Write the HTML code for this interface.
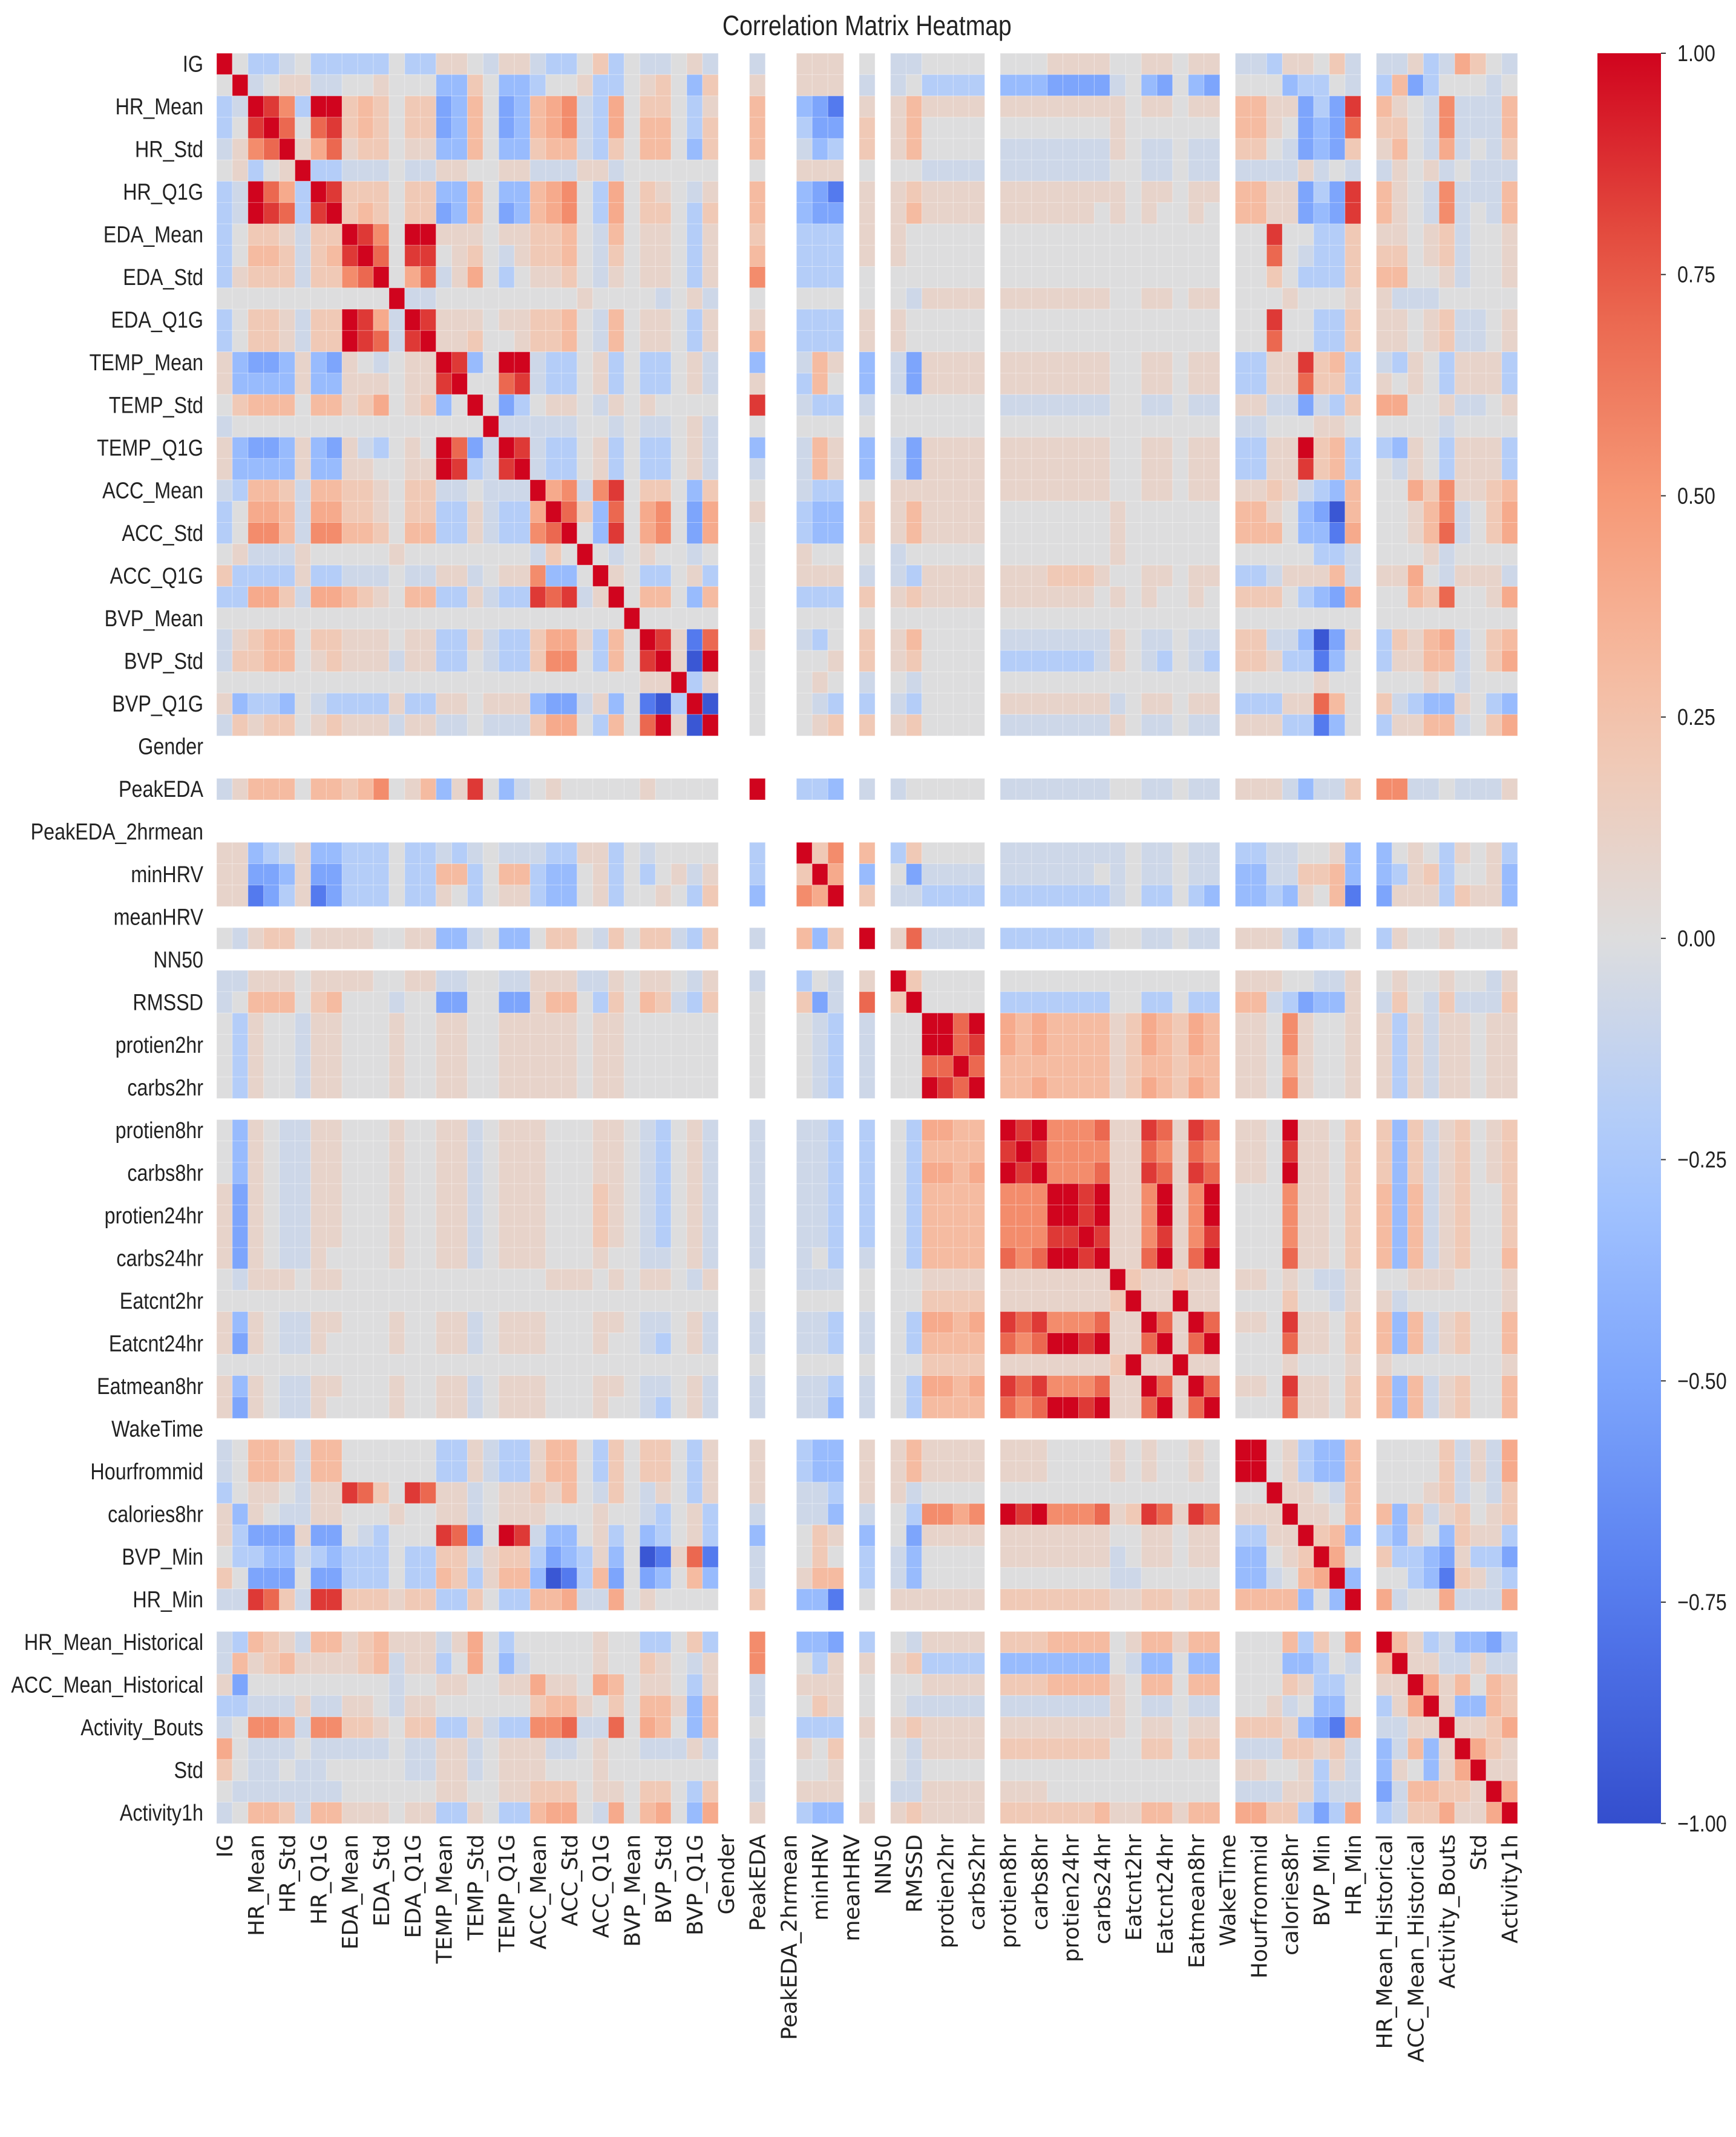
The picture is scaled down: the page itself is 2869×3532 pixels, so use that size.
<!DOCTYPE html>
<html>
<head>
<meta charset="utf-8">
<style>
  html,body{margin:0;padding:0;background:#fff;}
  svg{display:block;}
</style>
</head>
<body>
<svg id="chart" xmlns="http://www.w3.org/2000/svg" width="2869" height="3532" viewBox="0 0 2869 3532">
  <rect x="0" y="0" width="2869" height="3532" fill="#ffffff"/>
  <g id="title-g"></g>
  <g id="cells"></g>
  <g id="ylabels"></g>
  <g id="xlabels"></g>
  <g id="cbar"></g>
</svg>
<script>
// ---------- data ----------
const tickLabels = ["IG","HR_Mean","HR_Std","HR_Q1G","EDA_Mean","EDA_Std","EDA_Q1G","TEMP_Mean","TEMP_Std","TEMP_Q1G","ACC_Mean","ACC_Std","ACC_Q1G","BVP_Mean","BVP_Std","BVP_Q1G","Gender","PeakEDA","PeakEDA_2hrmean","minHRV","meanHRV","NN50","RMSSD","protien2hr","carbs2hr","protien8hr","carbs8hr","protien24hr","carbs24hr","Eatcnt2hr","Eatcnt24hr","Eatmean8hr","WakeTime","Hourfrommid","calories8hr","BVP_Min","HR_Min","HR_Mean_Historical","ACC_Mean_Historical","Activity_Bouts","Std","Activity1h"];
const nVars = 83;
const nanIdx = [32,33,35,36,40,42,49,64,73];
const levelChars = "ABCDEFGHIJKLMNO";
const levelValues = [-0.95,-0.75,-0.5,-0.35,-0.2,-0.08,0,0.1,0.2,0.3,0.4,0.55,0.7,0.85,1];
const colorbarTicks = [1,0.75,0.5,0.25,0,-0.25,-0.5,-0.75,-1];
const colorbarTickText = ["1.00","0.75","0.50","0.25","0.00","\u22120.25","\u22120.50","\u22120.75","\u22121.00"];
// lower-triangle rows (column j of row i, j<=i), coded with levelChars
const matrixRows = [
"OGEEFGEEEEEGEEHHFGHHFEEGIEGF",
"GOFGHGFFGHHGGGDDIGDDEGGGEGGI",
"EFONLEOOIIIGIICDJGCDJKKGEKGI",
"EGNOMGMNIJJGIICDJGCCJKKGEKGJ",
"FHLMOHKMHIIGHHDDJGCDIJJGFJGJ",
"GHEGHOEEFFFGFFHHGGHHFFFHGFGG",
"EFOMKEONIJIGIICDJGCDJKKGEKGI",
"EFONMENOIJJGIICDJGCCJKKGEKGJ",
"EGIIHFIIONLFOOHHHGGHIIJGFJGH",
"EGJJIFIJNOMFNOGHIGGHIIJGFJGH",
"EHIIIFIILMOGKMFHKGEGHHIGFIGH",
"GGGGGGGGGGGOGGGGGGGGGGGGGGGG",
"EGIIHFIIONKFONHHHGHHIIJGFJGH",
"EGIIHFIIONMFNOGHIGGHIIJGFJGH",
"HDCCDHDCHGFGHHONDFOOGEEGHEGE",
"HDDDDHDDHHHGHHNOGFMOGEEGHEGE",
"GIJJJGJJHIKGHIDGOGCEGHHGHGGH",
"FGGGGGGGGGGGGGGGGOGGGGGGGGGF",
"HDCCDHDCHFEGHGOMCFONGEEGHEGE",
"HDDDDHDDHHGGHHONEFNOGEEGHEGE",
"FEJJIFJJIIHGIIFFGFFFOKLFLNGI",
"EGKKJFKKIIHGIIEEHFEEKOMIDMGK",
"EGLLJFLLJJIGJJEEHFEELMOGDNGJ",
"GHFFFHGGGGGHGGGGGGGGFIGOGFGH",
"IEEEEHEEFFFGFFHHFGHHLDDGOIFF",
"EEKKIFKKJIHGJJEEHFEENMNFHOGJ",
"GGGGGGGGGGGGGGGGGGGGGGGGGGOG",
"FHIJJGIIHHHGHHEEHFEEIKKHEJGO",
"FIIJJGHIHHHFHHEEGFEEILLGEJGN"+"O",
"GGGGGGGGGGGGGGGGGGGGGGGGGGGH"+"HO",
"HDEEDGFEEEEHEEHHGHHHDCCFHDGB"+"AEO",
"FIHIIGHIHHHFHHFFGFFFIKKGEJGM"+"OHAO",
"",
"",
"FHJJJGJJIJLGHJDHNGDFGHGGGGGH"+"GGGG..O",
"",
"",
"HHDEFHDDEEEGEEFEFGFFFEEHHEGF"+"GGGG..E..O",
"HHCCDHCCEEEGEEJJEGJJEDDGHEGE"+"GHFH..E..IO",
"HHBCEHBCEEEGEEHGEGHHEDDGHEGG"+"HGEI..D..LKO",
"",
"GFHIIGHHHHGGHHDDFGDDGIIGFIGI"+"IFEI..F..JDI.O",
"",
"FFHHHGHHHHGGHHFFGGFFHHHFFHGH"+"HGFH..F..EGF.H.O",
"FGJJJGIJGGGFGGCCGGCCHJJGEIGJ"+"IFEI..G..ICF.M.IO",
"GEHGGFHHGGGHGGHHGGHHHHHGHHGG"+"GGGG..G..GFE.F.GG"+"O",
"GEHGGFHHGGGHGGHHGGHHHHHGHHGG"+"GGGG..G..GFE.F.GG"+"OO",
"GEHGGFHHGGGHGGHHGGHHHHHGHHGG"+"GGGG..G..GFE.F.GG"+"MMO",
"GEHGGFHHGGGHGGHHGGHHHHHGHHGG"+"GGGG..G..GFE.F.GG"+"ONMO",
"",
"GDHGFFHHGGGHGGHHFGHHHGGGHHGF"+"EGHF..F..FFE.E.GE"+"KKJJ"+"."+"O",
"GDHGFFHHGGGHGGHHFGHHHGGGHHGF"+"EGHF..F..FFE.E.GE"+"JJJJ"+"."+"NO",
"GDHGFFHHGGGHGGHHFGHHHGGGHHGF"+"EGHF..F..FFE.E.GE"+"KKJK"+"."+"ONO",
"HCHGFFHHGGGHGGHHFGHHHGGGIHGF"+"EGHF..F..FFE.E.GE"+"JJJJ"+"."+"LLLO",
"HCHGFFHHGGGHGGHHFGHHHGGGIHGF"+"EGHF..F..FFE.E.GE"+"JJJJ"+"."+"LLLOO",
"HCHGFFHHGGGHGGHHFGHHHGGGIHGF"+"EGHF..F..FFE.E.GE"+"JJJJ"+"."+"LLLNNO",
"HCHGFFHGGGGHGGHHFGHHHGGGHGGF"+"FGHF..F..FGE.F.GEJJJJ.MLMOON"+"O",
"GFHHHGHHGGGGGGGGGGGGGHHHGHGH"+"HGFH..G..FFF.G.GGHHHH.HHHHHH"+"HO",
"GGGGGGGGGGGGGGGGGGGGGGGGGGGG"+"GGGG..G..GGG.G.GGIIII.HHHHHH"+"HIO",
"HDHGFFHHGGGHGGHHFGHHHGGGHHGF"+"FGHF..F..FFE.F.GEKKJK.NMNLLL"+"MHHO",
"HCHGFFHGGGGHGGHHFGHHHGGGHGGF"+"EGHF..F..FFE.F.GEJJJJ.MLMOON"+"OHHMO",
"GGGGGGGGGGGGGGGGGGGGGGGGGGGG"+"GGGG..G..GGG.G.GGIIII.HHHHHH"+"HIOHHO",
"HDHGFFHHGGGHGGHHFGHHHGGGHHGF"+"FGHF..F..FFE.F.GEKKJK.NMNLLL"+"MHHOMHO",
"HCHGFFHGGGGHGGHHFGHHHGGGHGGF"+"EGHF..F..FFD.F.GEJJJJ.MLMOON"+"OHHMOHMO",
"",
"FGJJIFJJGGGGGGEEHFEEHJJGEIGI"+"IGEH..H..EDD.H.HJHHHH.HHHGGG"+"GHGHGGHG.O",
"FGJJIFJJGGGGGGEEHFEEHJJGEIGI"+"IGEH..H..EDD.H.HJHHHH.HHHGGG"+"GHGHGGHG.OO",
"EGHHGFHHNMIGNMHHFGHHIHJGFIGF"+"HGEH..H..FFE.H.HFGGGG.GGGGGG"+"GGGGGGGG.GGO",
"HDHGFFHHGGGHGGHHFGHHHGGGHGGF"+"EGHE..F..FFD.F.GELLKL.ONOLLL"+"MHINMHNM.HHHO",
"HECCCHCCGFEGGGNMCGONFDDGHEGD"+"EGHE..D..GIH.D.GCHHHH.HHHHHH"+"HGGHHGHH.EEHHO",
"GEEDDFEDEEEGEEIIFHIIECDEHDGA"+"BHMB..F..GIG.E.FDGGGG.HHHHHH"+"HFGHHGHH.DDGHIO",
"IGCCCGCCEEEGEEJIEHJJDABEJCGC"+"DGJD..F..HJJ.E.FDGGGG.GGGGGG"+"GFFGGGGG.DDFGJKO",
"FFNMIFNNIIIHIIEEIGEEJJKFFKGH"+"GGGG..I..DDB.G.HHHHHH.IIIIII"+"IHHIIHII.JJJJDGDO",
"",
"FEJIHFJJHIJHHHFHKGEGGGGGHGGE"+"EGIE..L..DDC.E.GFHHHH.IIIJJJ"+"JGHJJHJJ.GGGJEIGK.O",
"FJHIJHHHHIJFHHEGKGDFGGGGHGGI"+"HGFH..L..GEH.H.HIEEEE.DDDDDD"+"DGFDDGDD.GGGDDEGF.JO",
"HCGGGGGGGGGFGGHHGGHHKHHGKJGH"+"HGEH..F..HHH.G.GGHHHH.IIIJJJ"+"JHGJJGJJ.GGGIHEEG.HHO",
"EEFFFHFFHHGFHHGGGGGGIJJHGIGJ"+"JHDJ..F..GIH.G.GFFFFF.FFFFFF"+"FHGFFGFF.GGHFGDDG.EHKO",
"FGLLKFLLIIHGIIEEHFEELLMFFMGK"+"JGDJ..G..EEE.H.HIHHHH.HHHHHH"+"HHGHHGHH.IIIHDCBK.FFHHO",
"KGFFFGFFFFFGFFHHFGHHHFFGHGGF"+"FFHF..F..HGI.G.GFHHHH.IIIIII"+"IGGIIGII.FFFIIHIF.DFJDHO",
"IGFFGFFGGGGGFFHHFGHHHGGGHGGG"+"GGGG..F..GGH.G.GFGGGG.GGGGGG"+"GGGGGGGG.HHGGHEHF.DHGDHKO",
"GFFFFFFFGGGGGGHHGGHHIIIGHHGI"+"IGEI..F..HHH.G.FFHHHH.HHHGGG"+"GGGGGGGG.FFFHHEFF.CFJJIIHO",
"FGJJIFJJHHHGHHEEHGEEJKKGFKGJ"+"KGDK..H..EDD.H.HIHHHH.IIIIII"+"JHHJJHJJ.KKIIECEK.EFIIKHHKO"
];

// ---------- layout ----------
const heatLeft = 358, heatTop = 88, cellW = 25.9, cellH = 35.25;
const heatBottom = heatTop + nVars*cellH;
const cbLeft = 2640, cbWidth = 105;
const NS = "http://www.w3.org/2000/svg";

// coolwarm-like colormap (tuned to reference saturation)
const cmStops = [
 [0.0,[52,78,205]],[0.125,[84,122,238]],[0.25,[125,165,252]],[0.375,[170,201,254]],
 [0.5,[221,221,222]],[0.625,[245,196,172]],[0.75,[246,152,118]],[0.875,[232,92,70]],[1.0,[208,4,30]]
];
function cmap(v){
  let t=(v+1)/2; t=Math.max(0,Math.min(1,t));
  for(let k=1;k<cmStops.length;k++){
    if(t<=cmStops[k][0]){
      const a=cmStops[k-1], b=cmStops[k]; const f=(t-a[0])/(b[0]-a[0]);
      const c=a[1].map((x,i)=>Math.round(x+(b[1][i]-x)*f));
      return "rgb("+c.join(",")+")";
    }
  }
  return "rgb(208,4,30)";
}
function xScale(j){ return heatLeft + j*cellW; }
function yScale(i){ return heatTop + i*cellH; }
function cbScale(v){ return heatTop + (1-v)/2*(heatBottom-heatTop); }

function valueAt(i,j){
  if(nanIdx.includes(i)||nanIdx.includes(j)) return null;
  const a=Math.max(i,j), b=Math.min(i,j);
  const s=matrixRows[a]; if(!s) return null;
  const ch=s[b]; const k=levelChars.indexOf(ch);
  if(k<0) return null;
  return levelValues[k];
}

// ---------- title ----------
const tg=document.getElementById("title-g");
const title=document.createElementNS(NS,"text");


title.setAttribute("transform","translate("+(heatLeft+nVars*cellW/2)+",58) scale(0.85,1)");
title.setAttribute("text-anchor","middle");
title.setAttribute("font-family","Liberation Sans, DejaVu Sans, sans-serif");
title.setAttribute("font-size","46");
title.setAttribute("fill","#222");
title.textContent="Correlation Matrix Heatmap";
tg.appendChild(title);

// ---------- cells ----------
const cg=document.getElementById("cells");
for(let i=0;i<nVars;i++){
  for(let j=0;j<nVars;j++){
    const v=valueAt(i,j);
    if(v===null) continue;
    const r=document.createElementNS(NS,"rect");
    
    
    r.setAttribute("x",xScale(j).toFixed(2));
    r.setAttribute("y",yScale(i).toFixed(2));
    r.setAttribute("width",(cellW+0.3).toFixed(2));
    r.setAttribute("height",(cellH+0.3).toFixed(2));
    r.setAttribute("fill",cmap(v));
    r.setAttribute("stroke","rgba(255,255,255,0.35)");
    r.setAttribute("stroke-width","1");
    cg.appendChild(r);
  }
}

// ---------- axis labels ----------
const yg=document.getElementById("ylabels");
const xg=document.getElementById("xlabels");
tickLabels.forEach((lab,k)=>{
  const idx=2*k;
  const t=document.createElementNS(NS,"text");
  
  
  t.setAttribute("transform","translate(336,"+(yScale(idx)+cellH/2+13).toFixed(1)+") scale(0.85,1)");
  t.setAttribute("text-anchor","end");
  t.setAttribute("font-family","Liberation Sans, sans-serif");
  t.setAttribute("font-size","38");
  t.setAttribute("fill","#222");
  t.textContent=lab;
  yg.appendChild(t);

  const xt=document.createElementNS(NS,"text");
  
  
  const cx=xScale(idx)+cellW/2+13;
  xt.setAttribute("transform","translate("+cx.toFixed(1)+","+(heatBottom+18)+") rotate(-90)");
  xt.setAttribute("text-anchor","end");
  xt.setAttribute("font-family","DejaVu Sans, sans-serif");
  xt.setAttribute("font-size","36");
  xt.setAttribute("fill","#222");
  xt.textContent=lab;
  xg.appendChild(xt);
});

// ---------- colorbar ----------
const cb=document.getElementById("cbar");
const defs=document.createElementNS(NS,"defs");
const grad=document.createElementNS(NS,"linearGradient");
grad.setAttribute("id","cbgrad"); grad.setAttribute("x1","0"); grad.setAttribute("y1","0"); grad.setAttribute("x2","0"); grad.setAttribute("y2","1");
for(let s=0;s<=20;s++){
  const st=document.createElementNS(NS,"stop");
  st.setAttribute("offset",(s/20).toFixed(3));
  st.setAttribute("stop-color",cmap(1-2*s/20));
  grad.appendChild(st);
}
defs.appendChild(grad); cb.appendChild(defs);
const cbr=document.createElementNS(NS,"rect");


cbr.setAttribute("x",cbLeft); cbr.setAttribute("y",heatTop);
cbr.setAttribute("width",cbWidth); cbr.setAttribute("height",heatBottom-heatTop);
cbr.setAttribute("fill","url(#cbgrad)");
cb.appendChild(cbr);
colorbarTicks.forEach((v,k)=>{
  const y=cbScale(v);
  const tk=document.createElementNS(NS,"line");
  
  
  tk.setAttribute("x1",cbLeft+cbWidth); tk.setAttribute("x2",cbLeft+cbWidth+8);
  tk.setAttribute("y1",y); tk.setAttribute("y2",y);
  tk.setAttribute("stroke","#333"); tk.setAttribute("stroke-width","2");
  cb.appendChild(tk);
  const t=document.createElementNS(NS,"text");
  
  
  t.setAttribute("transform","translate(2772,"+(y+13).toFixed(1)+") scale(0.85,1)");
  t.setAttribute("font-family","Liberation Sans, sans-serif");
  t.setAttribute("font-size","38");
  t.setAttribute("fill","#222");
  t.textContent=colorbarTickText[k];
  cb.appendChild(t);
});
</script>
</body>
</html>
